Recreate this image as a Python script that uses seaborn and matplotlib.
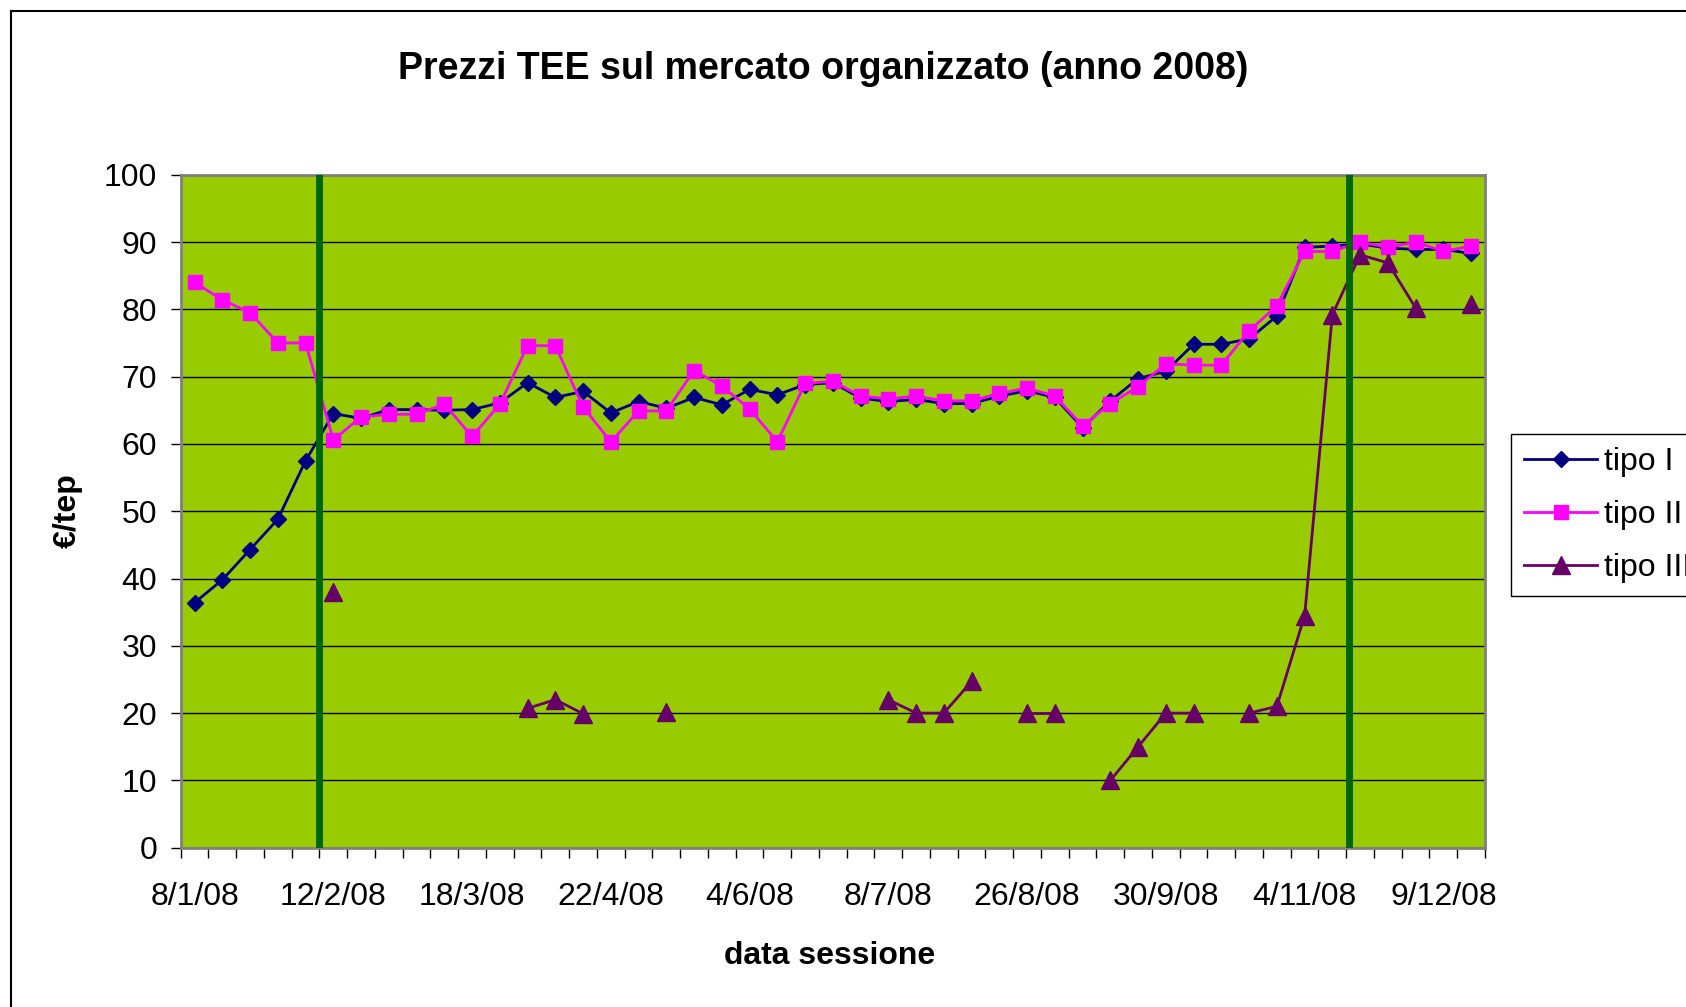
import matplotlib
matplotlib.use("Agg")
import matplotlib.pyplot as plt
from matplotlib.lines import Line2D
import numpy as np
import pandas as pd
import seaborn as sns

# sessioni di mercato (47 sessioni nel 2008), etichettate ogni 5
sessioni = list(range(47))
etichette_x = ["8/1/08", "12/2/08", "18/3/08", "22/4/08", "4/6/08",
               "8/7/08", "26/8/08", "30/9/08", "4/11/08", "9/12/08"]
sessioni_etichettate = [0, 5, 10, 15, 20, 25, 30, 35, 40, 45]

tipo_I = [36.4, 39.8, 44.3, 48.8, 57.5, 64.5, 63.8, 65.1, 65.1, 65.0,
          65.1, 66.1, 69.1, 66.9, 67.8, 64.6, 66.3, 65.3, 66.9, 65.8,
          68.1, 67.3, 68.8, 69.1, 66.8, 66.3, 66.6, 66.0, 66.0, 67.1,
          67.9, 66.9, 62.4, 66.4, 69.7, 70.8, 74.8, 74.8, 75.6, 79.0,
          89.2, 89.4, 89.7, 89.1, 88.9, 88.9, 88.3]
tipo_II = [84.0, 81.4, 79.5, 75.0, 75.0, 60.6, 64.0, 64.4, 64.4, 65.9,
           61.1, 65.9, 74.6, 74.6, 65.5, 60.3, 64.9, 64.9, 70.9, 68.6,
           65.2, 60.3, 69.0, 69.3, 67.1, 66.7, 67.1, 66.4, 66.4, 67.5,
           68.3, 67.1, 62.7, 66.0, 68.5, 71.9, 71.7, 71.7, 76.8, 80.5,
           88.6, 88.6, 90.0, 89.2, 90.0, 88.6, 89.4]
tipo_III = [None, None, None, None, None, 38.0, None, None, None, None,
            None, None, 20.7, 22.0, 19.9, None, None, 20.2, None, None,
            None, None, None, None, None, 22.0, 20.0, 20.0, 24.7, None,
            20.0, 20.0, None, 10.0, 15.0, 20.0, 20.0, None, 20.0, 21.0,
            34.5, 79.2, 88.1, 86.9, 80.2, None, 80.8]

# sessioni in cui cade una linea verticale (cambio regime)
linee_verticali = [4.5, 41.6]

COL_I = "#000080"
COL_II = "#FF00FF"
COL_III = "#660066"

plt.rcParams["font.family"] = ["Liberation Sans", "DejaVu Sans"]

df = pd.DataFrame({"sessione": sessioni, "tipo I": tipo_I,
                   "tipo II": tipo_II, "tipo III": tipo_III})
df["tipo III"] = df["tipo III"].astype(float)

# tipo III ha delle sessioni senza scambi: la linea si interrompe
s3 = df[["sessione", "tipo III"]].copy()
s3["tratto"] = s3["tipo III"].isna().cumsum()
s3 = s3.dropna()

fig = plt.figure(figsize=(16.86, 10.07), dpi=100)
ax = fig.add_axes([180.7 / 1686, 1 - 847.7 / 1007,
                   (1485 - 180.7) / 1686, (847.7 - 174.7) / 1007])
ax.set_facecolor("#99CC00")

sns.lineplot(data=df, x="sessione", y="tipo I", color=COL_I, lw=2,
             marker="D", markersize=8.5, markeredgecolor=COL_I,
             markeredgewidth=1, ax=ax, zorder=3)
sns.lineplot(data=df, x="sessione", y="tipo II", color=COL_II, lw=2,
             marker="s", markersize=10.5, markeredgecolor=COL_II,
             markeredgewidth=1, ax=ax, zorder=4)
sns.lineplot(data=s3, x="sessione", y="tipo III", units="tratto",
             estimator=None, color=COL_III, lw=2, marker="^",
             markersize=12.5, markeredgecolor=COL_III, markeredgewidth=1,
             legend=False, ax=ax, zorder=5)

for xv in linee_verticali:
    ax.axvline(xv, color="#006600", lw=5, zorder=6)

ax.set_xlim(-0.5, len(sessioni) - 0.5)
ax.set_ylim(0, 100)
ax.set_yticks(np.arange(0, 101, 10))
ax.set_xticks(sessioni_etichettate)
ax.set_xticklabels(etichette_x)
ax.set_xticks(np.arange(-0.5, len(sessioni)), minor=True)
ax.tick_params(axis="x", which="major", length=0, pad=25, labelsize=23)
ax.tick_params(axis="x", which="minor", length=7, width=1, color="black")
ax.tick_params(axis="y", length=7, width=1, pad=10, labelsize=23)
ax.yaxis.grid(True, color="black", lw=1)
ax.set_axisbelow(True)
ax.set_xlabel("")
ax.set_ylabel("")
for sp in ax.spines.values():
    sp.set_color("#808080")
    sp.set_linewidth(2)

fig.text(823 / 1686, 1 - 69 / 1007,
         "Prezzi TEE sul mercato organizzato (anno 2008)",
         ha="center", va="center", fontsize=27, fontweight="bold")
fig.text(830 / 1686, 1 - 956 / 1007, "data sessione",
         ha="center", va="center", fontsize=23, fontweight="bold")
fig.text(68 / 1686, 1 - 511 / 1007, "€/tep", rotation=90,
         ha="center", va="center", fontsize=23, fontweight="bold")

handles = [
    Line2D([], [], color=COL_I, lw=2, marker="D", markersize=8.5),
    Line2D([], [], color=COL_II, lw=2, marker="s", markersize=10.5),
    Line2D([], [], color=COL_III, lw=2, marker="^", markersize=12.5),
]
leg = ax.legend(handles, ["tipo I", "tipo II", "tipo III"],
                loc="upper left", bbox_to_anchor=(1511 / 1686, 1 - 434 / 1007),
                bbox_transform=fig.transFigure, borderaxespad=0,
                fontsize=23, frameon=True, fancybox=False, framealpha=1,
                edgecolor="black", handlelength=2.3, handletextpad=0.2,
                labelspacing=0.72, borderpad=0.4)
leg.get_frame().set_linewidth(1)

# bordo dell'area del grafico
fig.add_artist(Line2D([11 / 1686, 11 / 1686], [0, 1 - 11 / 1007],
                      transform=fig.transFigure, color="black", lw=1.5))
fig.add_artist(Line2D([11 / 1686, 1], [1 - 11 / 1007, 1 - 11 / 1007],
                      transform=fig.transFigure, color="black", lw=1.5))

fig.savefig("out.png", dpi=100)
